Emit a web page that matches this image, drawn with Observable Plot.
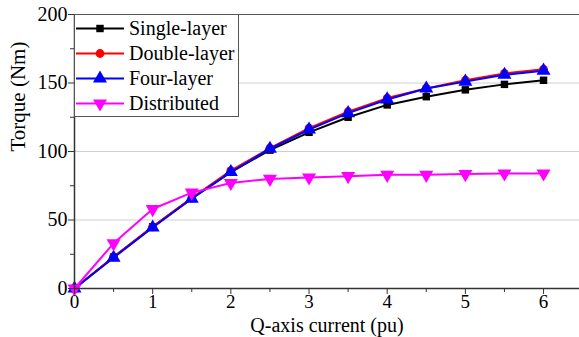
<!DOCTYPE html>
<html>
<head>
<meta charset="utf-8">
<script src="https://cdn.jsdelivr.net/npm/d3@7"></script>
<script src="https://cdn.jsdelivr.net/npm/@observablehq/plot@0.6"></script>
</head>
<body style="margin:0;background:#fff">
<div id="wrap" style="position:relative;width:579px;height:337px;overflow:hidden">
<div id="chart"></div>
<div id="legend" style="position:absolute;left:74px;top:14px;width:165px;height:103px;box-sizing:border-box;border:1px solid #555;background:#fff;font-family:'Liberation Serif', serif;font-size:20px"></div>
</div>
<script>
const current = [0, 0.5, 1, 1.5, 2, 2.5, 3, 3.5, 4, 4.5, 5, 5.5, 6];
const singleLayer = [0, 23, 45, 66, 85, 101, 114, 125, 134, 140, 145, 149, 152];
const doubleLayer = [0, 23, 45, 66, 86, 102.5, 117, 129, 139, 146, 152, 157, 160];
const fourLayer   = [0, 22.5, 44.5, 65.5, 85, 102, 116, 128, 138, 146, 151, 156, 159];
const distributed = [0, 33, 58, 70, 77, 80, 81, 82, 83, 83, 83.5, 84, 84];
const seriesNames = ["Single-layer", "Double-layer", "Four-layer", "Distributed"];
const seriesColors = ["#000000", "#ff0000", "#0000ff", "#ff00ff"];
const yTicks = [0, 50, 100, 150, 200];
const yMinor = [25, 75, 125, 175];
const xTicks = [0, 1, 2, 3, 4, 5, 6];
const xMinor = [0.5, 1.5, 2.5, 3.5, 4.5, 5.5];

const triangleDown = {
  draw(context, size) {
    const y = -Math.sqrt(size / (Math.sqrt(3) * 3));
    context.moveTo(0, -y * 2);
    context.lineTo(-Math.sqrt(3) * y, y);
    context.lineTo(Math.sqrt(3) * y, y);
    context.closePath();
  }
};
const seriesSymbols = ["square", "circle", "triangle", triangleDown];
const seriesSizes = [4.2, 4.4, 5.2, 5.2];
const seriesValues = [singleLayer, doubleLayer, fourLayer, distributed];
const FONT = "'Liberation Serif', serif";

const data = seriesNames.flatMap((name, i) =>
  current.map((x, j) => ({series: name, x, y: seriesValues[i][j]})));

const marks = [
  Plot.gridY([50, 100, 150], {stroke: "#cfcfcf", strokeOpacity: 1, strokeWidth: 1.2}),
  Plot.ruleY([200], {stroke: "#555", strokeWidth: 1.2}),
];
seriesNames.forEach((name, i) => {
  const d = data.filter(r => r.series === name);
  marks.push(Plot.line(d, {x: "x", y: "y", stroke: seriesColors[i], strokeWidth: 2}));
  marks.push(Plot.dot(d, {x: "x", y: "y", fill: seriesColors[i], stroke: "none", symbol: () => seriesSymbols[i], r: seriesSizes[i]}));
});
marks.push(
  Plot.ruleY([0], {stroke: "#333", strokeWidth: 1.5}),
  Plot.ruleX([0], {stroke: "#333", strokeWidth: 1.5}),
  Plot.axisX(xTicks, {tickSize: 6, tickPadding: 0, fontSize: 19, fontFamily: FONT, stroke: "#333", label: null, tickFormat: d => String(d)}),
  Plot.axisX(xMinor, {tickSize: 4, stroke: "#333", label: null, tickFormat: () => ""}),
  Plot.axisY(yTicks, {tickSize: 6, tickPadding: 1, fontSize: 20, fontFamily: FONT, stroke: "#333", label: null, tickFormat: d => String(d)}),
  Plot.axisY(yMinor, {tickSize: 4, stroke: "#333", label: null, tickFormat: () => ""}),
  Plot.text(["Q-axis current (pu)"], {frameAnchor: "bottom", dy: 37, fontSize: 20, fontFamily: FONT, lineAnchor: "middle", fill: "#000"}),
  Plot.text(["Torque (Nm)"], {frameAnchor: "left", dx: -56, rotate: -90, fontSize: 21, fontFamily: FONT, lineAnchor: "middle", fill: "#000"})
);

const chart = Plot.plot({
  width: 579, height: 337,
  marginLeft: 74, marginRight: 0, marginTop: 14, marginBottom: 49,
  style: {fontFamily: FONT, fontSize: "20px", color: "#000", background: "#fff"},
  x: {domain: [0, 6.46]},
  y: {domain: [0, 200]},
  symbol: {type: "identity"},
  marks
});
document.getElementById("chart").appendChild(chart);

// legend
const legend = document.getElementById("legend");
seriesNames.forEach((name, i) => {
  const row = document.createElement("div");
  row.style.cssText = "position:absolute;left:0;height:25px;display:flex;align-items:center;white-space:nowrap;top:" + (1 + i * 25) + "px";
  const ns = "http://www.w3.org/2000/svg";
  const svg = document.createElementNS(ns, "svg");
  svg.setAttribute("width", 50); svg.setAttribute("height", 25);
  svg.style.cssText = "display:block;flex:none";
  const line = document.createElementNS(ns, "line");
  line.setAttribute("x1", 1); line.setAttribute("x2", 49);
  line.setAttribute("y1", 12.5); line.setAttribute("y2", 12.5);
  line.setAttribute("stroke", seriesColors[i]); line.setAttribute("stroke-width", 2);
  svg.appendChild(line);
  const p = document.createElementNS(ns, "path");
  const sym = typeof seriesSymbols[i] === "string"
    ? {square: d3.symbolSquare, circle: d3.symbolCircle, triangle: d3.symbolTriangle}[seriesSymbols[i]]
    : seriesSymbols[i];
  const rr = seriesSizes[i];
  p.setAttribute("d", d3.symbol(sym, Math.PI * rr * rr)());
  p.setAttribute("transform", "translate(25,12.5)");
  p.setAttribute("fill", seriesColors[i]);
  svg.appendChild(p);
  row.appendChild(svg);
  const t = document.createElement("span");
  t.style.cssText = "margin-left:4px;line-height:25px;color:#000";
  t.textContent = name;
  row.appendChild(t);
  legend.appendChild(row);
});
</script>
</body>
</html>
